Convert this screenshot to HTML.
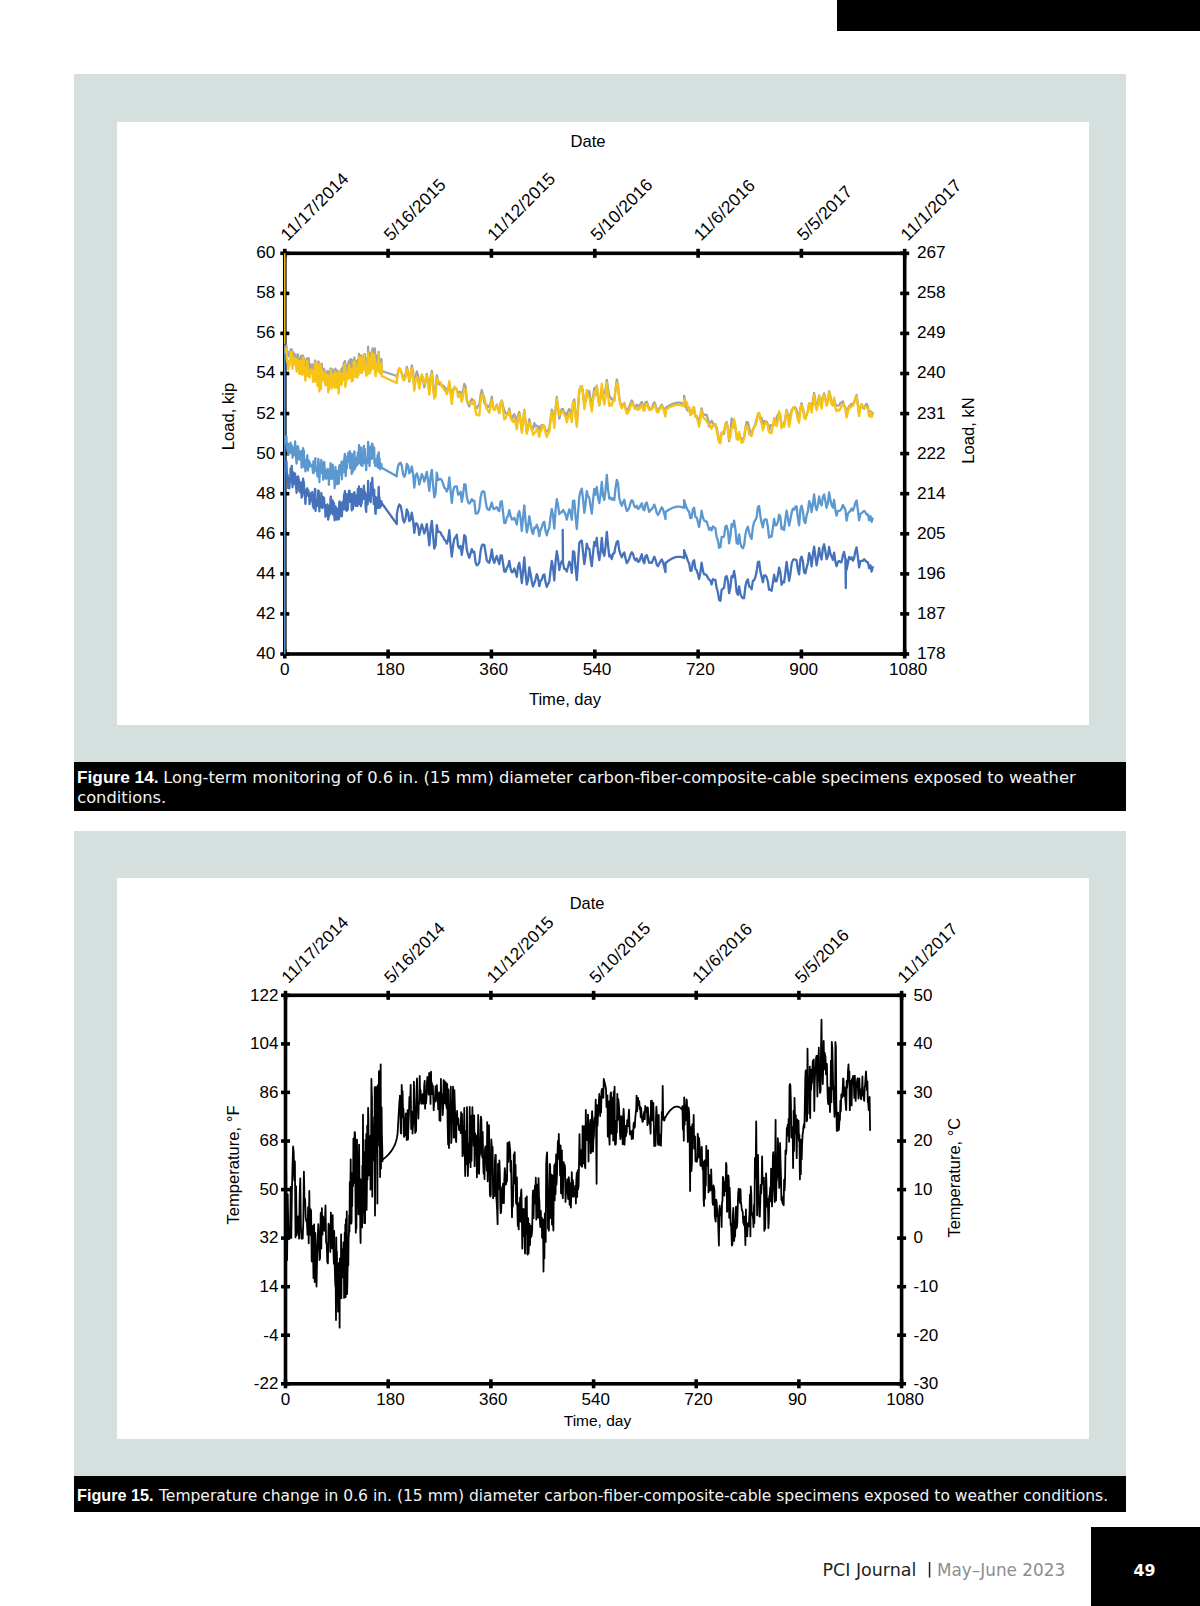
<!DOCTYPE html>
<html><head><meta charset="utf-8"><title>PCI Journal p49</title>
<style>
html,body{margin:0;padding:0;background:#fff;}
body{width:1200px;height:1606px;position:relative;overflow:hidden;font-family:"Liberation Sans", Arial, Helvetica, sans-serif;}
svg{position:absolute;left:0;top:0;}
svg text{font-family:"Liberation Sans", Arial, Helvetica, sans-serif;fill:#000;}
</style></head>
<body>
<svg width="1200" height="1606" viewBox="0 0 1200 1606">
<rect x="837" y="0" width="363" height="31" fill="#000"/>
<rect x="74" y="74" width="1052" height="688" fill="#d5dfde"/>
<rect x="117" y="122" width="972" height="603" fill="#fff"/>
<rect x="74" y="762" width="1052" height="49" fill="#000"/>
<rect x="74" y="831" width="1052" height="645" fill="#d5dfde"/>
<rect x="117" y="878" width="972" height="561" fill="#fff"/>
<rect x="74" y="1476" width="1052" height="36" fill="#000"/>
<rect x="1091" y="1527" width="109" height="79" fill="#000"/>
<g id="chart1">
<rect x="284.8" y="253.3" width="619.9" height="400.7" fill="none" stroke="#000" stroke-width="3.6"/>
<rect x="283.0" y="248.8" width="3.6" height="9.0"/>
<rect x="283.0" y="649.5" width="3.6" height="9.0"/>
<rect x="386.3" y="248.8" width="3.6" height="9.0"/>
<rect x="386.3" y="649.5" width="3.6" height="9.0"/>
<rect x="489.6" y="248.8" width="3.6" height="9.0"/>
<rect x="489.6" y="649.5" width="3.6" height="9.0"/>
<rect x="593.0" y="248.8" width="3.6" height="9.0"/>
<rect x="593.0" y="649.5" width="3.6" height="9.0"/>
<rect x="696.3" y="248.8" width="3.6" height="9.0"/>
<rect x="696.3" y="649.5" width="3.6" height="9.0"/>
<rect x="799.6" y="248.8" width="3.6" height="9.0"/>
<rect x="799.6" y="649.5" width="3.6" height="9.0"/>
<rect x="902.9" y="248.8" width="3.6" height="9.0"/>
<rect x="902.9" y="649.5" width="3.6" height="9.0"/>
<rect x="280.3" y="251.5" width="9.0" height="3.6"/>
<rect x="900.2" y="251.5" width="9.0" height="3.6"/>
<rect x="280.3" y="291.6" width="9.0" height="3.6"/>
<rect x="900.2" y="291.6" width="9.0" height="3.6"/>
<rect x="280.3" y="331.6" width="9.0" height="3.6"/>
<rect x="900.2" y="331.6" width="9.0" height="3.6"/>
<rect x="280.3" y="371.7" width="9.0" height="3.6"/>
<rect x="900.2" y="371.7" width="9.0" height="3.6"/>
<rect x="280.3" y="411.8" width="9.0" height="3.6"/>
<rect x="900.2" y="411.8" width="9.0" height="3.6"/>
<rect x="280.3" y="451.8" width="9.0" height="3.6"/>
<rect x="900.2" y="451.8" width="9.0" height="3.6"/>
<rect x="280.3" y="491.9" width="9.0" height="3.6"/>
<rect x="900.2" y="491.9" width="9.0" height="3.6"/>
<rect x="280.3" y="532.0" width="9.0" height="3.6"/>
<rect x="900.2" y="532.0" width="9.0" height="3.6"/>
<rect x="280.3" y="572.1" width="9.0" height="3.6"/>
<rect x="900.2" y="572.1" width="9.0" height="3.6"/>
<rect x="280.3" y="612.1" width="9.0" height="3.6"/>
<rect x="900.2" y="612.1" width="9.0" height="3.6"/>
<rect x="280.3" y="652.2" width="9.0" height="3.6"/>
<rect x="900.2" y="652.2" width="9.0" height="3.6"/>
<path d="M284.8 253.3V344.5" stroke="#f7c314" stroke-width="1.5" fill="none"/><path d="M284.8 344.5V654" stroke="#5b98d0" stroke-width="1.5" fill="none"/>
<path d="M285.6 346.0L286.0 350.5L286.4 345.7L286.8 352.1L287.1 354.7L287.5 354.5L287.9 352.0L288.3 355.3L288.7 356.4L289.0 353.8L289.4 353.6L289.8 352.7L290.2 356.2L290.6 349.5L290.9 353.1L291.3 352.9L291.7 349.5L292.1 350.9L292.5 359.4L292.8 354.3L293.2 352.3L293.6 353.4L294.0 358.4L294.4 358.3L294.7 358.8L295.1 354.3L295.5 359.2L295.9 358.3L296.3 359.0L296.6 363.3L297.0 360.3L297.4 355.5L297.8 354.3L298.2 356.6L298.5 361.5L298.9 358.1L299.3 363.6L299.7 360.4L300.1 362.4L300.4 362.2L300.8 362.4L301.2 355.7L301.6 366.6L302.0 366.8L302.3 366.4L302.7 356.8L303.1 355.8L303.5 359.1L303.9 357.8L304.2 363.7L304.6 364.4L305.0 368.2L305.4 368.5L305.8 364.5L306.1 366.0L306.5 359.1L306.9 360.2L307.3 358.1L307.7 365.3L308.0 364.6L308.4 362.3L308.8 358.4L309.2 364.3L309.6 369.1L309.9 364.1L310.3 367.2L310.7 368.5L311.1 369.8L311.5 366.9L311.8 366.4L312.2 364.3L312.6 368.9L313.0 371.0L313.4 366.0L313.7 373.3L314.1 367.3L314.5 366.2L314.9 361.2L315.3 360.5L315.6 368.8L316.0 367.7L316.4 375.1L316.8 371.1L317.2 369.8L317.5 374.9L317.9 370.4L318.3 361.5L318.7 361.6L319.1 374.4L319.4 379.9L319.8 372.7L320.2 368.0L320.6 365.2L321.0 374.1L321.3 363.8L321.7 363.9L322.1 369.1L322.5 372.1L322.9 370.9L323.2 375.6L323.6 371.2L324.0 368.9L324.4 370.1L324.8 372.2L325.1 375.7L325.5 381.8L325.9 375.9L326.3 375.6L326.7 374.9L327.0 376.7L327.4 371.2L327.8 371.1L328.2 375.7L328.6 373.1L328.9 380.9L329.3 371.5L329.7 372.2L330.1 381.4L330.5 368.5L330.8 369.2L331.2 371.2L331.6 376.6L332.0 373.0L332.4 376.1L332.7 369.4L333.1 377.3L333.5 376.3L333.9 371.6L334.3 375.1L334.6 383.8L335.0 377.9L335.4 368.7L335.8 372.8L336.2 377.4L336.5 379.3L336.9 379.9L337.3 370.6L337.7 372.6L338.1 377.1L338.4 378.8L338.8 378.5L339.2 371.6L339.6 372.9L340.0 379.9L340.3 372.8L340.7 371.9L341.1 374.2L341.5 368.9L341.9 382.1L342.2 376.8L342.6 367.5L343.0 370.2L343.4 370.0L343.8 362.9L344.1 368.2L344.5 362.6L344.9 361.1L345.3 371.1L345.7 374.9L346.0 375.2L346.4 365.0L346.8 369.3L347.2 373.0L347.6 367.1L347.9 370.4L348.3 364.5L348.7 361.5L349.1 364.0L349.5 363.7L349.8 360.0L350.2 366.8L350.6 363.7L351.0 359.2L351.4 364.9L351.7 375.2L352.1 366.0L352.5 363.6L352.9 371.3L353.3 359.9L353.6 362.9L354.0 360.3L354.4 357.5L354.8 369.3L355.2 363.0L355.5 367.6L355.9 363.4L356.3 361.2L356.7 366.1L357.1 363.5L357.4 365.5L357.8 359.6L358.2 360.8L358.6 362.6L359.0 353.9L359.3 360.7L359.7 357.5L360.1 360.6L360.5 362.9L360.9 366.4L361.2 355.6L361.6 364.3L362.0 361.9L362.4 359.7L362.8 359.5L363.1 365.1L363.5 362.3L363.9 354.4L364.3 356.8L364.7 354.1L365.0 357.8L365.4 358.2L365.8 364.5L366.2 365.1L366.6 360.9L366.9 358.9L367.3 360.8L367.7 365.0L368.1 346.7L368.5 356.9L368.8 352.2L369.2 365.2L369.6 365.6L370.0 360.7L370.4 360.6L370.7 361.8L371.1 352.6L371.5 359.8L371.9 352.2L372.3 349.8L372.6 348.4L373.0 358.5L373.4 356.7L373.8 360.2L374.2 354.2L374.5 362.6L374.9 348.4L375.3 363.4L375.7 364.4L376.1 358.1L376.4 355.4L376.8 358.8L377.2 358.4L377.6 355.3L378.0 362.4L378.3 360.0L378.7 351.8L379.1 358.0L379.5 358.6L379.9 360.8L380.2 361.6L380.6 363.6L381.0 359.8L381.4 359.2L381.7 371.0L396.8 376.0L396.8 377.7L398.1 371.5L399.3 368.7L400.6 370.4L401.8 372.9L403.1 377.6L404.3 377.8L405.6 374.0L406.8 366.8L408.1 371.5L409.3 381.5L410.6 374.9L411.8 365.5L413.1 372.3L414.3 388.1L415.6 376.9L416.8 371.4L418.1 375.8L419.3 385.5L420.6 379.8L421.8 376.0L423.1 380.4L424.3 387.2L425.6 381.2L426.8 374.0L428.1 381.9L429.3 391.1L430.6 377.1L431.8 371.0L433.1 382.6L434.3 396.2L435.6 390.1L436.8 375.3L438.1 382.1L439.3 384.6L440.6 383.8L441.8 385.1L443.1 385.7L444.3 386.7L445.6 388.2L446.8 390.3L448.1 389.7L449.3 382.8L450.6 390.7L451.8 399.6L453.1 390.1L454.3 388.0L455.6 388.1L456.8 389.5L458.1 393.6L459.3 392.0L460.6 391.8L461.8 401.1L463.1 390.7L464.3 383.9L465.6 386.6L466.8 400.6L468.1 403.8L469.3 406.4L470.6 401.3L471.8 399.0L473.1 400.4L474.3 401.7L475.6 408.2L476.8 408.2L478.1 405.6L479.3 405.6L480.6 395.4L481.8 390.0L483.1 395.0L484.3 402.7L485.6 405.1L486.8 405.1L488.1 407.0L489.3 406.5L490.6 403.1L491.8 396.7L493.1 407.2L494.3 409.6L495.6 407.7L496.8 404.6L498.1 408.3L499.3 413.0L500.6 403.2L501.8 400.5L503.1 406.3L504.3 410.6L505.6 413.0L506.8 414.1L508.1 412.8L509.3 408.5L510.6 416.2L511.8 418.8L513.0 416.2L514.3 414.2L515.5 417.7L516.8 422.7L518.0 415.5L519.3 412.0L520.5 419.8L521.8 430.3L523.0 422.2L524.3 410.1L525.5 420.7L526.8 431.8L528.0 427.6L529.3 419.2L530.5 425.1L531.8 429.5L533.0 429.1L534.3 423.0L535.5 426.4L536.8 425.6L538.0 426.6L539.3 431.2L540.5 426.2L541.8 425.1L543.0 425.1L544.3 427.8L545.5 430.3L546.8 431.0L548.0 430.6L549.3 428.1L550.5 419.2L551.8 409.6L553.0 413.4L554.3 421.8L555.5 408.5L556.8 396.8L558.0 408.2L559.3 418.6L560.5 414.1L561.8 408.8L563.0 409.2L564.3 412.6L565.5 412.9L566.8 415.8L568.0 411.1L569.3 409.0L570.5 410.9L571.8 417.3L573.0 402.0L574.3 399.4L575.5 414.0L576.8 424.4L578.0 407.9L579.3 389.9L580.5 387.4L581.8 386.0L583.0 392.4L584.3 402.4L585.5 401.4L586.8 394.0L588.0 395.5L589.3 391.0L590.5 399.9L591.8 408.3L593.0 397.2L594.3 388.2L595.5 391.5L596.8 385.6L598.0 396.5L599.3 405.4L600.5 397.7L601.8 387.6L603.0 394.1L604.3 393.2L605.5 389.5L606.8 379.9L608.0 388.4L609.3 396.0L610.5 397.1L611.8 399.6L613.0 399.2L614.3 400.9L615.5 389.3L616.8 379.3L618.0 385.1L619.3 398.5L620.5 403.4L621.8 406.8L623.0 404.6L624.3 402.9L625.5 407.6L626.8 411.3L628.0 409.8L629.3 406.6L630.5 403.5L631.8 400.5L633.0 403.1L634.3 407.3L635.5 407.3L636.8 404.7L638.0 406.7L639.3 405.5L640.5 404.0L641.8 401.9L643.0 406.4L644.3 407.8L645.5 402.3L646.8 401.7L648.0 405.5L649.3 408.2L650.5 409.1L651.8 408.7L653.0 404.6L654.3 402.2L655.5 404.7L656.8 410.3L658.0 410.9L659.3 408.1L660.5 406.6L661.8 404.6L663.0 407.6L664.3 411.2L665.5 413.8L665.6 408.0L667.7 406.5L669.7 405.3L671.6 404.3L673.6 403.5L675.4 403.0L677.3 402.7L679.0 402.7L680.8 402.9L682.5 403.3L684.1 404.0L684.1 395.6L685.4 403.2L686.6 409.1L687.9 410.7L689.1 407.7L690.4 412.7L691.6 414.0L692.9 410.1L694.1 410.2L695.4 416.5L696.6 415.9L697.9 418.6L699.1 423.6L700.4 415.7L701.6 408.3L702.9 414.0L704.1 414.9L705.4 414.7L706.6 414.8L707.9 419.0L709.1 426.5L710.4 422.6L711.6 420.8L712.9 422.8L714.1 426.1L715.4 424.3L716.6 427.7L717.9 434.1L719.1 440.7L720.4 440.8L721.6 432.7L722.9 432.2L724.1 433.9L725.4 424.4L726.6 422.0L727.9 428.8L729.1 441.1L730.4 432.7L731.6 418.4L732.9 423.6L734.1 424.7L735.4 428.2L736.6 436.3L737.9 437.4L739.1 433.7L740.4 437.9L741.6 437.9L742.9 439.9L744.1 437.8L745.4 428.1L746.6 422.0L747.9 422.3L749.1 427.4L750.4 433.0L751.6 435.8L752.9 429.4L754.1 427.1L755.4 424.0L756.6 419.1L757.9 415.5L759.1 413.3L760.4 419.7L761.6 417.8L762.9 424.6L764.1 420.9L765.4 421.7L766.6 421.7L767.9 424.4L769.1 431.7L770.4 425.1L771.6 425.3L772.9 425.1L774.1 424.6L775.4 423.5L776.6 418.0L777.9 414.6L779.1 413.5L780.4 417.3L781.6 426.2L782.9 423.6L784.1 424.5L785.4 417.7L786.6 410.0L787.9 414.2L789.1 419.1L790.4 415.8L791.6 410.2L792.9 408.7L794.1 407.2L795.4 407.5L796.6 409.7L797.9 415.1L799.1 418.1L800.4 408.8L801.6 403.2L802.9 408.9L804.1 414.7L805.4 416.9L806.6 415.1L807.9 411.4L809.1 403.3L810.4 404.1L811.6 406.9L812.9 400.4L814.1 393.0L815.4 401.0L816.6 404.7L817.9 402.9L819.1 395.3L820.4 401.2L821.6 404.4L822.9 396.6L824.1 393.4L825.4 398.5L826.6 403.4L827.9 401.0L829.1 391.1L830.4 396.1L831.6 402.1L832.9 405.5L834.1 399.8L835.4 404.4L836.6 405.4L837.9 405.6L839.1 405.3L840.4 403.0L841.6 402.5L842.9 401.4L844.1 406.0L845.4 407.4L846.6 415.6L847.9 409.1L849.1 406.1L850.4 405.2L851.6 403.7L852.9 405.4L854.1 402.7L855.4 398.2L856.6 395.0L857.9 404.3L859.1 413.4L860.4 406.9L861.6 404.2L862.9 407.8L864.1 408.7L865.4 405.4L866.6 403.8L867.9 406.7L869.1 414.2L870.4 411.1L871.6 416.5L872.9 411.7" fill="none" stroke="#a4a4a4" stroke-width="2.30" stroke-linejoin="round" stroke-linecap="butt"/>
<path d="M285.6 348.0L286.0 352.7L286.4 350.0L286.8 359.4L287.1 361.7L287.5 360.1L287.9 362.7L288.3 369.7L288.7 365.0L289.0 363.0L289.4 365.8L289.8 360.6L290.2 361.0L290.6 352.5L290.9 358.0L291.3 359.7L291.7 351.8L292.1 361.5L292.5 368.8L292.8 364.2L293.2 357.4L293.6 363.1L294.0 364.4L294.4 360.1L294.7 363.7L295.1 359.0L295.5 358.5L295.9 366.3L296.3 366.1L296.6 371.7L297.0 368.2L297.4 359.4L297.8 361.5L298.2 361.9L298.5 364.6L298.9 361.4L299.3 373.9L299.7 367.3L300.1 369.2L300.4 366.7L300.8 373.4L301.2 361.0L301.6 374.1L302.0 373.1L302.3 374.7L302.7 361.9L303.1 357.5L303.5 361.2L303.9 360.1L304.2 373.0L304.6 373.2L305.0 376.4L305.4 380.6L305.8 375.1L306.1 371.8L306.5 367.2L306.9 368.0L307.3 360.9L307.7 371.0L308.0 376.1L308.4 371.2L308.8 369.9L309.2 371.9L309.6 377.6L309.9 374.4L310.3 373.9L310.7 369.5L311.1 369.8L311.5 370.0L311.8 370.0L312.2 369.9L312.6 373.4L313.0 381.9L313.4 370.4L313.7 381.6L314.1 375.0L314.5 376.5L314.9 363.4L315.3 363.0L315.6 381.4L316.0 365.0L316.4 379.8L316.8 380.4L317.2 377.4L317.5 386.0L317.9 380.0L318.3 364.0L318.7 369.0L319.1 377.9L319.4 391.4L319.8 378.2L320.2 377.0L320.6 364.7L321.0 389.0L321.3 368.9L321.7 371.2L322.1 375.7L322.5 380.4L322.9 372.5L323.2 377.3L323.6 371.6L324.0 372.0L324.4 379.5L324.8 382.6L325.1 383.2L325.5 385.4L325.9 377.1L326.3 374.2L326.7 379.2L327.0 384.6L327.4 375.1L327.8 378.4L328.2 392.4L328.6 382.4L328.9 389.8L329.3 381.7L329.7 375.6L330.1 384.4L330.5 374.1L330.8 369.9L331.2 376.0L331.6 388.6L332.0 385.6L332.4 380.3L332.7 374.8L333.1 386.0L333.5 383.3L333.9 374.5L334.3 375.3L334.6 387.7L335.0 382.3L335.4 372.0L335.8 373.8L336.2 378.7L336.5 387.7L336.9 384.6L337.3 373.3L337.7 377.7L338.1 386.8L338.4 387.3L338.8 393.6L339.2 371.9L339.6 371.2L340.0 382.1L340.3 378.6L340.7 385.1L341.1 380.9L341.5 374.0L341.9 384.1L342.2 375.5L342.6 375.6L343.0 380.3L343.4 378.5L343.8 370.2L344.1 373.6L344.5 365.6L344.9 364.2L345.3 386.8L345.7 384.7L346.0 382.4L346.4 371.9L346.8 375.8L347.2 379.3L347.6 373.8L347.9 379.5L348.3 368.1L348.7 369.9L349.1 365.1L349.5 366.9L349.8 371.2L350.2 378.2L350.6 368.9L351.0 377.9L351.4 369.0L351.7 381.5L352.1 370.3L352.5 378.0L352.9 380.5L353.3 371.7L353.6 361.9L354.0 366.3L354.4 361.7L354.8 376.5L355.2 361.4L355.5 370.8L355.9 371.2L356.3 370.5L356.7 377.2L357.1 372.0L357.4 377.7L357.8 368.0L358.2 365.3L358.6 375.0L359.0 357.2L359.3 363.1L359.7 367.6L360.1 370.2L360.5 359.6L360.9 372.9L361.2 357.2L361.6 368.8L362.0 372.9L362.4 369.5L362.8 367.2L363.1 362.4L363.5 366.8L363.9 354.8L364.3 369.8L364.7 359.4L365.0 363.6L365.4 371.3L365.8 368.4L366.2 375.8L366.6 370.0L366.9 369.4L367.3 374.6L367.7 364.0L368.1 352.5L368.5 357.3L368.8 358.9L369.2 368.5L369.6 373.7L370.0 369.0L370.4 361.7L370.7 371.1L371.1 357.2L371.5 367.5L371.9 352.6L372.3 359.6L372.6 358.2L373.0 368.7L373.4 359.9L373.8 366.5L374.2 354.6L374.5 369.3L374.9 358.8L375.3 374.1L375.7 376.1L376.1 363.6L376.4 366.6L376.8 368.1L377.2 371.2L377.6 366.1L378.0 371.4L378.3 363.4L378.7 353.9L379.1 368.3L379.5 369.8L379.9 373.5L380.2 373.1L380.6 364.8L381.0 372.5L381.4 363.1L381.7 376.0L396.8 383.0L396.8 381.1L398.1 372.5L399.3 368.1L400.6 369.5L401.8 374.3L403.1 379.8L404.3 380.3L405.6 377.1L406.8 369.4L408.1 371.9L409.3 380.1L410.6 376.3L411.8 368.3L413.1 377.3L414.3 390.6L415.6 379.7L416.8 376.8L418.1 380.7L419.3 388.7L420.6 381.6L421.8 374.3L423.1 377.7L424.3 383.8L425.6 380.2L426.8 375.3L428.1 384.1L429.3 394.5L430.6 380.3L431.8 373.5L433.1 387.7L434.3 398.7L435.6 396.3L436.8 378.4L438.1 382.3L439.3 381.6L440.6 382.5L441.8 386.4L443.1 387.5L444.3 390.1L445.6 390.7L446.8 394.2L448.1 390.5L449.3 381.2L450.6 394.4L451.8 404.0L453.1 391.7L454.3 386.7L455.6 388.1L456.8 389.0L458.1 397.0L459.3 396.7L460.6 394.1L461.8 401.7L463.1 395.6L464.3 388.8L465.6 389.4L466.8 398.8L468.1 402.8L469.3 403.4L470.6 403.7L471.8 403.2L473.1 404.0L474.3 400.4L475.6 411.8L476.8 415.0L478.1 415.4L479.3 415.3L480.6 401.4L481.8 394.5L483.1 395.0L484.3 397.1L485.6 404.2L486.8 408.9L488.1 410.6L489.3 412.7L490.6 406.3L491.8 400.2L493.1 407.6L494.3 410.3L495.6 407.6L496.8 405.6L498.1 409.7L499.3 412.2L500.6 402.6L501.8 401.3L503.1 411.6L504.3 419.2L505.6 418.3L506.8 414.8L508.1 414.9L509.3 410.8L510.6 417.5L511.8 420.2L513.0 422.0L514.3 419.1L515.5 423.1L516.8 429.2L518.0 418.8L519.3 414.4L520.5 419.9L521.8 432.8L523.0 421.3L524.3 409.6L525.5 421.1L526.8 433.8L528.0 428.6L529.3 422.6L530.5 425.0L531.8 428.8L533.0 434.9L534.3 433.0L535.5 432.2L536.8 428.6L538.0 430.2L539.3 436.8L540.5 431.1L541.8 430.0L543.0 425.5L544.3 425.6L545.5 432.7L546.8 436.9L548.0 433.4L549.3 431.9L550.5 421.1L551.8 412.1L553.0 417.2L554.3 427.8L555.5 410.4L556.8 398.6L558.0 406.4L559.3 415.0L560.5 413.4L561.8 412.2L563.0 411.4L564.3 414.9L565.5 416.6L566.8 422.2L568.0 417.8L569.3 413.2L570.5 415.8L571.8 421.9L573.0 402.1L574.3 401.9L575.5 416.4L576.8 426.9L578.0 410.3L579.3 391.8L580.5 386.4L581.8 386.2L583.0 394.9L584.3 409.0L585.5 401.6L586.8 389.8L588.0 396.3L589.3 397.5L590.5 404.1L591.8 411.6L593.0 400.0L594.3 392.0L595.5 395.4L596.8 386.2L598.0 397.3L599.3 405.1L600.5 397.5L601.8 383.8L603.0 397.0L604.3 404.5L605.5 396.6L606.8 382.6L608.0 394.9L609.3 405.8L610.5 403.4L611.8 405.7L613.0 401.2L614.3 400.5L615.5 389.5L616.8 383.0L618.0 385.6L619.3 399.2L620.5 404.9L621.8 408.3L623.0 405.8L624.3 403.9L625.5 409.1L626.8 413.8L628.0 412.7L629.3 410.3L630.5 406.4L631.8 403.0L633.0 404.5L634.3 408.1L635.5 409.3L636.8 407.8L638.0 409.8L639.3 408.9L640.5 406.4L641.8 405.0L643.0 409.5L644.3 411.0L645.5 405.1L646.8 403.7L648.0 407.5L649.3 410.1L650.5 409.8L651.8 409.5L653.0 407.2L654.3 404.7L655.5 407.2L656.8 411.7L658.0 412.5L659.3 410.2L660.5 407.9L661.8 406.1L663.0 408.7L664.3 412.4L665.5 416.6L665.6 410.0L667.7 408.5L669.7 407.3L671.6 406.3L673.6 405.6L675.4 405.1L677.3 404.9L679.0 404.9L680.8 405.2L682.5 405.7L684.1 406.5L684.1 399.5L685.4 402.2L686.6 401.8L687.9 407.4L689.1 410.0L690.4 415.2L691.6 413.4L692.9 407.5L694.1 407.1L695.4 415.7L696.6 417.3L697.9 421.3L699.1 426.6L700.4 419.2L701.6 410.2L702.9 416.5L704.1 418.5L705.4 419.2L706.6 421.2L707.9 423.4L709.1 424.4L710.4 425.8L711.6 428.7L712.9 425.4L714.1 424.6L715.4 424.8L716.6 430.4L717.9 436.7L719.1 442.7L720.4 443.2L721.6 433.3L722.9 433.3L724.1 431.5L725.4 424.0L726.6 423.7L727.9 428.1L729.1 439.5L730.4 436.4L731.6 427.9L732.9 427.8L734.1 419.2L735.4 425.8L736.6 438.8L737.9 439.8L739.1 432.0L740.4 438.5L741.6 442.7L742.9 442.2L744.1 438.4L745.4 428.4L746.6 425.5L747.9 426.8L749.1 434.1L750.4 435.3L751.6 435.1L752.9 429.1L754.1 427.1L755.4 425.4L756.6 422.2L757.9 413.2L759.1 412.7L760.4 419.2L761.6 423.5L762.9 430.1L764.1 426.0L765.4 422.7L766.6 423.5L767.9 425.6L769.1 432.1L770.4 433.0L771.6 433.2L772.9 425.3L774.1 417.9L775.4 424.4L776.6 426.1L777.9 419.8L779.1 411.4L780.4 414.8L781.6 428.2L782.9 424.7L784.1 426.7L785.4 418.5L786.6 410.1L787.9 418.4L789.1 426.6L790.4 420.0L791.6 411.9L792.9 407.6L794.1 407.3L795.4 409.5L796.6 413.4L797.9 420.0L799.1 422.7L800.4 408.1L801.6 405.2L802.9 407.7L804.1 417.4L805.4 419.1L806.6 414.6L807.9 411.1L809.1 403.4L810.4 404.9L811.6 412.6L812.9 404.5L814.1 395.0L815.4 404.8L816.6 410.1L817.9 404.7L819.1 396.0L820.4 404.3L821.6 408.5L822.9 397.6L824.1 394.8L825.4 399.9L826.6 405.7L827.9 402.1L829.1 391.9L830.4 399.1L831.6 404.2L832.9 405.2L834.1 397.6L835.4 407.6L836.6 411.3L837.9 409.6L839.1 410.5L840.4 408.8L841.6 405.6L842.9 403.9L844.1 405.1L845.4 409.1L846.6 417.6L847.9 411.6L849.1 407.2L850.4 407.6L851.6 405.9L852.9 406.0L854.1 402.6L855.4 398.2L856.6 396.5L857.9 405.8L859.1 416.0L860.4 407.4L861.6 404.7L862.9 406.0L864.1 407.6L865.4 407.2L866.6 406.9L867.9 409.2L869.1 416.4L870.4 412.6L871.6 417.2L872.9 413.5" fill="none" stroke="#f7c314" stroke-width="2.30" stroke-linejoin="round" stroke-linecap="butt"/>
<path d="M285.6 436.0L286.0 443.3L286.4 436.2L286.8 447.5L287.1 448.3L287.5 444.6L287.9 443.6L288.3 454.8L288.7 448.5L289.0 450.7L289.4 452.3L289.8 444.0L290.2 452.9L290.6 442.7L290.9 451.8L291.3 449.4L291.7 445.3L292.1 448.6L292.5 457.7L292.8 451.9L293.2 447.9L293.6 450.8L294.0 455.1L294.4 454.4L294.7 448.1L295.1 441.4L295.5 449.8L295.9 456.1L296.3 460.4L296.6 463.5L297.0 458.3L297.4 450.3L297.8 446.2L298.2 447.4L298.5 456.0L298.9 450.9L299.3 459.7L299.7 458.9L300.1 455.3L300.4 453.6L300.8 454.7L301.2 451.1L301.6 467.6L302.0 464.9L302.3 463.5L302.7 454.6L303.1 448.2L303.5 453.0L303.9 451.0L304.2 467.2L304.6 466.0L305.0 464.5L305.4 471.4L305.8 464.8L306.1 459.9L306.5 459.8L306.9 458.2L307.3 455.5L307.7 466.4L308.0 470.5L308.4 462.2L308.8 460.5L309.2 462.9L309.6 466.6L309.9 462.3L310.3 465.1L310.7 465.0L311.1 466.4L311.5 466.1L311.8 465.0L312.2 465.9L312.6 467.7L313.0 473.0L313.4 461.3L313.7 473.0L314.1 464.8L314.5 465.2L314.9 460.8L315.3 458.1L315.6 470.5L316.0 466.6L316.4 467.2L316.8 470.8L317.2 473.9L317.5 476.4L317.9 473.8L318.3 459.0L318.7 462.3L319.1 472.4L319.4 482.1L319.8 472.2L320.2 468.1L320.6 468.7L321.0 470.0L321.3 459.9L321.7 463.0L322.1 473.4L322.5 468.1L322.9 470.0L323.2 479.8L323.6 469.3L324.0 462.0L324.4 462.8L324.8 470.9L325.1 469.2L325.5 478.4L325.9 470.2L326.3 478.8L326.7 474.4L327.0 476.7L327.4 473.3L327.8 469.0L328.2 476.2L328.6 473.5L328.9 484.8L329.3 470.0L329.7 469.9L330.1 475.8L330.5 463.2L330.8 466.8L331.2 477.3L331.6 479.0L332.0 479.0L332.4 470.7L332.7 464.6L333.1 474.3L333.5 471.4L333.9 470.9L334.3 477.6L334.6 488.2L335.0 482.6L335.4 466.8L335.8 473.4L336.2 473.4L336.5 474.3L336.9 484.1L337.3 476.2L337.7 470.8L338.1 478.7L338.4 480.7L338.8 483.5L339.2 466.4L339.6 465.1L340.0 474.8L340.3 467.2L340.7 470.4L341.1 469.7L341.5 461.6L341.9 479.4L342.2 472.8L342.6 468.1L343.0 467.7L343.4 472.3L343.8 460.1L344.1 462.9L344.5 457.9L344.9 453.9L345.3 468.6L345.7 476.1L346.0 472.4L346.4 457.6L346.8 468.5L347.2 464.1L347.6 455.9L347.9 461.9L348.3 452.9L348.7 453.4L349.1 455.6L349.5 457.0L349.8 451.1L350.2 468.2L350.6 453.2L351.0 456.6L351.4 458.4L351.7 474.0L352.1 457.0L352.5 463.2L352.9 471.8L353.3 453.7L353.6 453.8L354.0 457.3L354.4 451.3L354.8 469.3L355.2 457.1L355.5 461.0L355.9 466.6L356.3 460.3L356.7 461.3L357.1 463.3L357.4 464.8L357.8 452.5L358.2 456.3L358.6 463.3L359.0 445.2L359.3 456.1L359.7 456.1L360.1 454.0L360.5 453.2L360.9 465.0L361.2 447.4L361.6 462.1L362.0 465.4L362.4 465.9L362.8 457.0L363.1 462.0L363.5 457.0L363.9 445.9L364.3 463.3L364.7 448.9L365.0 454.8L365.4 458.3L365.8 462.0L366.2 470.1L366.6 459.0L366.9 460.0L367.3 462.9L367.7 458.5L368.1 441.8L368.5 447.2L368.8 450.4L369.2 462.6L369.6 466.0L370.0 457.3L370.4 447.0L370.7 458.9L371.1 449.1L371.5 459.1L371.9 443.6L372.3 447.8L372.6 444.2L373.0 457.9L373.4 451.5L373.8 453.5L374.2 447.7L374.5 463.3L374.9 462.3L375.3 465.9L375.7 466.0L376.1 459.3L376.4 461.0L376.8 461.8L377.2 464.1L377.6 455.2L378.0 467.8L378.3 458.4L378.7 452.4L379.1 463.4L379.5 458.3L379.9 468.1L380.2 469.3L380.6 466.2L381.0 466.8L381.4 463.9L381.7 467.8L396.8 476.2L396.8 473.6L398.1 466.0L399.3 463.4L400.6 462.7L401.8 465.7L403.1 474.4L404.3 476.8L405.6 473.5L406.8 463.8L408.1 465.8L409.3 473.3L410.6 471.6L411.8 466.4L413.1 474.3L414.3 487.7L415.6 476.1L416.8 473.5L418.1 476.8L419.3 484.7L420.6 479.5L421.8 474.0L423.1 476.9L424.3 481.7L425.6 476.7L426.8 471.8L428.1 481.2L429.3 490.9L430.6 476.3L431.8 469.8L433.1 485.0L434.3 497.4L435.6 493.4L436.8 472.6L438.1 480.0L439.3 479.2L440.6 478.9L441.8 480.2L443.1 483.7L444.3 487.7L445.6 488.6L446.8 491.5L448.1 488.1L449.3 477.3L450.6 491.0L451.8 502.9L453.1 490.6L454.3 487.0L455.6 486.4L456.8 486.3L458.1 494.6L459.3 494.1L460.6 491.8L461.8 501.8L463.1 494.2L464.3 484.2L465.6 484.7L466.8 496.8L468.1 502.1L469.3 503.6L470.6 501.8L471.8 499.1L473.1 501.1L474.3 500.6L475.6 513.3L476.8 513.6L478.1 512.6L479.3 508.9L480.6 497.3L481.8 492.3L483.1 491.2L484.3 491.9L485.6 501.2L486.8 507.9L488.1 509.7L489.3 510.0L490.6 506.2L491.8 502.5L493.1 508.3L494.3 509.2L495.6 507.8L496.8 507.1L498.1 510.0L499.3 511.0L500.6 501.9L501.8 501.3L503.1 512.8L504.3 523.1L505.6 522.9L506.8 517.7L508.1 515.9L509.3 510.1L510.6 515.8L511.8 519.5L513.0 519.3L514.3 517.7L515.5 520.6L516.8 524.6L518.0 514.9L519.3 511.2L520.5 517.7L521.8 531.0L523.0 518.0L524.3 505.4L525.5 520.3L526.8 532.5L528.0 527.2L529.3 516.1L530.5 522.8L531.8 531.0L533.0 534.0L534.3 527.7L535.5 528.0L536.8 524.8L538.0 528.4L539.3 536.2L540.5 530.1L541.8 527.3L543.0 523.1L544.3 521.8L545.5 530.8L546.8 535.3L548.0 530.8L549.3 527.9L550.5 517.3L551.8 508.9L553.0 515.4L554.3 528.7L555.5 510.7L556.8 499.2L558.0 504.8L559.3 514.2L560.5 512.4L561.8 512.3L563.0 509.9L564.3 511.9L565.5 514.5L566.8 519.6L568.0 514.3L569.3 509.3L570.5 512.2L571.8 519.8L573.0 500.8L574.3 500.7L575.5 516.3L576.8 529.0L578.0 513.0L579.3 497.0L580.5 491.4L581.8 488.6L583.0 498.5L584.3 512.9L585.5 504.4L586.8 491.1L588.0 496.3L589.3 497.7L590.5 506.1L591.8 513.6L593.0 500.6L594.3 488.8L595.5 494.7L596.8 487.0L598.0 497.3L599.3 503.1L600.5 495.0L601.8 481.9L603.0 495.4L604.3 499.9L605.5 490.8L606.8 475.0L608.0 489.1L609.3 498.7L610.5 497.5L611.8 499.8L613.0 498.3L614.3 500.0L615.5 488.3L616.8 479.9L618.0 483.7L619.3 497.9L620.5 502.8L621.8 505.8L623.0 502.1L624.3 499.8L625.5 506.2L626.8 511.0L628.0 510.1L629.3 507.5L630.5 502.9L631.8 500.1L633.0 501.5L634.3 506.2L635.5 507.5L636.8 505.7L638.0 508.9L639.3 508.1L640.5 505.5L641.8 503.2L643.0 508.9L644.3 510.3L645.5 503.8L646.8 502.5L648.0 507.4L649.3 511.9L650.5 510.2L651.8 509.2L653.0 507.3L654.3 504.6L655.5 508.1L656.8 513.0L658.0 515.0L659.3 512.7L660.5 509.8L661.8 507.3L663.0 509.4L664.3 513.8L665.5 519.1L665.6 512.0L667.7 510.5L669.7 509.3L671.6 508.3L673.6 507.5L675.4 507.0L677.3 506.7L679.0 506.7L680.8 506.9L682.5 507.3L684.1 508.0L684.1 500.1L685.4 504.5L686.6 507.9L687.9 510.4L689.1 511.7L690.4 518.2L691.6 517.8L692.9 509.2L694.1 507.6L695.4 517.1L696.6 517.3L697.9 521.9L699.1 527.0L700.4 519.3L701.6 510.7L702.9 517.4L704.1 520.3L705.4 521.3L706.6 521.3L707.9 525.8L709.1 529.7L710.4 527.9L711.6 530.4L712.9 526.4L714.1 527.6L715.4 528.3L716.6 536.8L717.9 540.4L719.1 547.8L720.4 547.3L721.6 537.0L722.9 537.1L724.1 536.3L725.4 526.5L726.6 525.7L727.9 530.7L729.1 543.3L730.4 536.3L731.6 524.1L732.9 526.5L734.1 520.6L735.4 528.9L736.6 542.8L737.9 543.8L739.1 534.3L740.4 543.4L741.6 546.8L742.9 548.3L744.1 545.4L745.4 534.4L746.6 529.2L747.9 526.8L749.1 532.2L750.4 536.7L751.6 538.9L752.9 527.2L754.1 522.1L755.4 519.9L756.6 517.6L757.9 507.1L759.1 506.0L760.4 516.2L761.6 522.8L762.9 527.4L764.1 520.1L765.4 519.2L766.6 519.8L767.9 527.0L769.1 537.6L770.4 536.2L771.6 536.6L772.9 527.8L774.1 519.0L775.4 525.3L776.6 525.2L777.9 521.8L779.1 514.7L780.4 516.8L781.6 529.2L782.9 527.5L784.1 530.1L785.4 519.5L786.6 510.7L787.9 517.9L789.1 525.7L790.4 519.7L791.6 512.8L792.9 508.7L794.1 509.7L795.4 506.7L796.6 506.5L797.9 518.4L799.1 525.3L800.4 509.3L801.6 505.8L802.9 511.3L804.1 521.2L805.4 523.1L806.6 515.4L807.9 511.3L809.1 501.1L810.4 503.7L811.6 512.0L812.9 504.1L814.1 494.4L815.4 505.9L816.6 510.2L817.9 504.9L819.1 496.5L820.4 503.3L821.6 505.4L822.9 497.0L824.1 494.4L825.4 501.1L826.6 507.8L827.9 503.2L829.1 492.5L830.4 499.7L831.6 504.9L832.9 507.6L834.1 500.0L835.4 510.4L836.6 515.7L837.9 511.0L839.1 510.9L840.4 510.5L841.6 508.5L842.9 505.0L844.1 507.3L845.4 509.8L846.6 520.6L847.9 513.7L849.1 512.3L850.4 510.9L851.6 508.5L852.9 510.5L854.1 507.6L855.4 502.7L856.6 500.5L857.9 510.1L859.1 520.3L860.4 513.8L861.6 513.2L862.9 511.9L864.1 510.7L865.4 512.2L866.6 514.6L867.9 514.3L869.1 520.2L870.4 516.1L871.6 521.8L872.9 517.5" fill="none" stroke="#5b98d0" stroke-width="2.30" stroke-linejoin="round" stroke-linecap="butt"/>
<path d="M285.6 462.0L286.0 471.4L286.4 461.3L286.8 472.9L287.1 478.9L287.5 474.5L287.9 477.3L288.3 488.1L288.7 481.8L289.0 485.3L289.4 488.3L289.8 478.3L290.2 482.7L290.6 468.4L290.9 478.8L291.3 478.0L291.7 465.9L292.1 476.3L292.5 487.3L292.8 480.3L293.2 472.3L293.6 472.7L294.0 483.8L294.4 481.2L294.7 477.5L295.1 473.7L295.5 483.1L295.9 485.3L296.3 488.5L296.6 492.8L297.0 485.7L297.4 477.0L297.8 479.1L298.2 476.4L298.5 482.0L298.9 479.7L299.3 490.9L299.7 482.9L300.1 491.6L300.4 492.2L300.8 487.1L301.2 482.5L301.6 497.6L302.0 494.6L302.3 496.2L302.7 485.0L303.1 478.6L303.5 482.4L303.9 482.3L304.2 493.0L304.6 490.4L305.0 495.8L305.4 503.9L305.8 496.6L306.1 496.1L306.5 492.2L306.9 488.3L307.3 488.3L307.7 495.5L308.0 494.0L308.4 490.6L308.8 495.3L309.2 495.9L309.6 504.2L309.9 500.7L310.3 501.7L310.7 493.3L311.1 496.1L311.5 497.1L311.8 496.7L312.2 492.2L312.6 500.3L313.0 506.3L313.4 495.1L313.7 508.4L314.1 496.6L314.5 500.8L314.9 489.0L315.3 489.2L315.6 510.9L316.0 499.7L316.4 504.2L316.8 506.2L317.2 504.6L317.5 505.5L317.9 499.6L318.3 490.5L318.7 490.7L319.1 505.0L319.4 511.3L319.8 499.4L320.2 501.0L320.6 506.8L321.0 503.8L321.3 493.0L321.7 497.0L322.1 501.2L322.5 508.2L322.9 496.8L323.2 505.4L323.6 500.4L324.0 497.8L324.4 504.1L324.8 507.0L325.1 505.0L325.5 516.8L325.9 505.4L326.3 508.6L326.7 511.4L327.0 515.0L327.4 504.4L327.8 507.3L328.2 519.6L328.6 505.9L328.9 516.6L329.3 507.1L329.7 507.0L330.1 514.1L330.5 498.5L330.8 496.6L331.2 503.2L331.6 512.1L332.0 513.2L332.4 508.6L332.7 500.5L333.1 512.2L333.5 515.2L333.9 502.8L334.3 513.8L334.6 520.3L335.0 513.3L335.4 506.3L335.8 507.1L336.2 509.6L336.5 511.3L336.9 519.6L337.3 508.9L337.7 511.8L338.1 509.6L338.4 512.6L338.8 519.4L339.2 503.8L339.6 501.3L340.0 516.5L340.3 507.4L340.7 512.5L341.1 503.5L341.5 506.3L341.9 516.3L342.2 510.2L342.6 502.0L343.0 508.3L343.4 509.2L343.8 501.3L344.1 494.7L344.5 494.3L344.9 491.2L345.3 507.1L345.7 510.2L346.0 503.7L346.4 494.2L346.8 510.8L347.2 508.0L347.6 498.3L347.9 509.4L348.3 494.2L348.7 496.0L349.1 490.7L349.5 490.9L349.8 493.3L350.2 501.9L350.6 493.9L351.0 496.1L351.4 495.1L351.7 510.4L352.1 494.1L352.5 500.7L352.9 508.9L353.3 494.6L353.6 495.0L354.0 493.2L354.4 492.1L354.8 503.5L355.2 498.3L355.5 505.9L355.9 503.3L356.3 495.5L356.7 503.8L357.1 496.7L357.4 506.1L357.8 489.0L358.2 490.1L358.6 496.4L359.0 486.5L359.3 504.0L359.7 492.2L360.1 493.6L360.5 492.0L360.9 506.3L361.2 488.8L361.6 503.8L362.0 499.2L362.4 491.4L362.8 495.6L363.1 499.1L363.5 494.3L363.9 485.6L364.3 493.3L364.7 494.4L365.0 492.1L365.4 498.1L365.8 509.1L366.2 511.9L366.6 497.9L366.9 494.3L367.3 501.4L367.7 504.4L368.1 481.0L368.5 493.7L368.8 492.8L369.2 492.6L369.6 500.4L370.0 499.9L370.4 495.3L370.7 502.3L371.1 482.9L371.5 490.1L371.9 495.0L372.3 477.9L372.6 487.2L373.0 491.4L373.4 493.2L373.8 504.0L374.2 489.6L374.5 501.4L374.9 496.7L375.3 513.1L375.7 513.7L376.1 497.4L376.4 498.6L376.8 503.8L377.2 504.5L377.6 498.9L378.0 508.2L378.3 497.1L378.7 486.9L379.1 498.2L379.5 497.5L379.9 507.8L380.2 501.8L380.6 505.1L381.0 506.2L381.4 501.2L381.7 503.0L396.8 524.0L396.8 514.8L398.1 507.6L399.3 504.5L400.6 505.8L401.8 511.4L403.1 520.0L404.3 522.5L405.6 518.5L406.8 509.5L408.1 512.5L409.3 521.0L410.6 519.5L411.8 512.6L413.1 520.4L414.3 532.8L415.6 523.7L416.8 523.4L418.1 526.4L419.3 535.0L420.6 529.4L421.8 524.3L423.1 528.5L424.3 533.5L425.6 529.1L426.8 524.2L428.1 534.2L429.3 545.4L430.6 529.2L431.8 520.9L433.1 535.7L434.3 548.6L435.6 545.1L436.8 525.2L438.1 532.0L439.3 531.7L440.6 532.4L441.8 535.4L443.1 536.7L444.3 539.6L445.6 540.6L446.8 543.7L448.1 540.0L449.3 530.1L450.6 545.6L451.8 556.6L453.1 545.5L454.3 538.8L455.6 537.3L456.8 534.8L458.1 546.1L459.3 548.3L460.6 545.9L461.8 554.8L463.1 545.8L464.3 535.1L465.6 536.8L466.8 549.6L468.1 554.8L469.3 557.7L470.6 553.3L471.8 549.1L473.1 552.4L474.3 551.8L475.6 562.6L476.8 565.4L478.1 564.4L479.3 562.5L480.6 550.9L481.8 545.5L483.1 544.5L484.3 545.0L485.6 552.8L486.8 560.2L488.1 562.2L489.3 562.7L490.6 557.1L491.8 549.3L493.1 559.5L494.3 562.9L495.6 558.6L496.8 556.0L498.1 560.7L499.3 564.2L500.6 555.3L501.8 555.3L503.1 563.9L504.3 571.7L505.6 571.6L506.8 567.8L508.1 566.0L509.3 560.8L510.6 568.9L511.8 572.4L513.0 571.8L514.3 568.5L515.5 572.3L516.8 576.8L518.0 566.6L519.3 562.8L520.5 570.9L521.8 583.0L523.0 571.4L524.3 557.4L525.5 573.0L526.8 584.5L528.0 580.3L529.3 567.4L530.5 573.5L531.8 581.2L533.0 586.4L534.3 583.2L535.5 579.6L536.8 574.1L538.0 577.4L539.3 586.2L540.5 580.7L541.8 579.8L543.0 575.6L544.3 574.4L545.5 582.1L546.8 586.9L548.0 584.1L549.3 581.7L550.5 571.1L551.8 560.9L553.0 567.5L554.3 580.5L555.5 562.0L556.8 551.2L558.0 558.1L559.3 570.0L560.5 564.2L561.8 561.1L563.0 562.3L562.7 530.0L562.9 562.3L564.3 568.9L565.5 569.1L566.8 571.5L568.0 566.8L569.3 561.7L570.5 564.5L571.8 572.9L573.0 551.2L574.3 552.0L575.5 568.0L576.8 580.1L578.0 563.0L579.3 543.1L580.5 541.1L581.8 540.6L583.0 551.7L584.3 564.2L585.5 556.0L586.8 543.7L588.0 548.1L589.3 548.7L590.5 558.7L591.8 566.2L593.0 553.3L594.3 541.8L595.5 545.7L596.8 538.0L598.0 552.0L599.3 560.1L600.5 552.0L601.8 537.9L603.0 551.9L604.3 555.9L605.5 546.9L606.8 531.8L608.0 544.9L609.3 556.6L610.5 555.1L611.8 559.1L613.0 553.7L614.3 553.3L615.5 546.5L616.8 541.7L618.0 541.1L619.3 550.3L620.5 554.2L621.8 557.3L623.0 554.1L624.3 552.4L625.5 558.3L626.8 563.1L628.0 561.3L629.3 558.8L630.5 554.8L631.8 552.2L633.0 554.0L634.3 558.6L635.5 560.3L636.8 558.4L638.0 561.9L639.3 561.5L640.5 557.7L641.8 554.3L643.0 560.7L644.3 563.2L645.5 556.2L646.8 555.1L648.0 559.2L649.3 562.8L650.5 562.5L651.8 562.8L653.0 559.9L654.3 556.7L655.5 559.7L656.8 564.7L658.0 566.2L659.3 563.6L660.5 561.2L661.8 559.4L663.0 562.1L664.3 567.3L665.5 572.1L665.6 563.0L667.7 561.3L669.7 559.9L671.6 558.8L673.6 557.9L675.4 557.2L677.3 556.9L679.0 556.8L680.8 556.9L682.5 557.3L684.1 558.0L684.1 550.2L685.4 554.2L686.6 556.7L687.9 561.0L689.1 563.1L690.4 570.8L691.6 570.7L692.9 561.9L694.1 560.2L695.4 568.9L696.6 570.1L697.9 574.1L699.1 579.1L700.4 572.1L701.6 562.6L702.9 570.7L704.1 574.3L705.4 574.3L706.6 575.4L707.9 577.6L709.1 579.7L710.4 580.7L711.6 584.5L712.9 579.2L714.1 579.8L715.4 580.0L716.6 587.8L717.9 592.3L719.1 599.9L720.4 600.7L721.6 589.9L722.9 588.7L724.1 587.8L725.4 577.3L726.6 576.0L727.9 580.9L729.1 593.2L730.4 587.5L731.6 576.1L732.9 577.2L734.1 571.0L735.4 579.1L736.6 592.0L737.9 594.9L739.1 586.5L740.4 593.8L741.6 596.9L742.9 598.1L744.1 598.0L745.4 586.3L746.6 581.3L747.9 579.4L749.1 586.4L750.4 587.1L751.6 589.2L752.9 580.9L754.1 580.3L755.4 577.1L756.6 571.6L757.9 562.3L759.1 561.6L760.4 571.6L761.6 576.5L762.9 582.2L764.1 575.5L765.4 575.4L766.6 577.2L767.9 581.8L769.1 589.8L770.4 589.3L771.6 590.9L772.9 582.6L774.1 574.7L775.4 581.3L776.6 581.2L777.9 575.2L779.1 567.7L780.4 572.0L781.6 584.8L782.9 581.6L784.1 582.3L785.4 572.1L786.6 562.0L787.9 571.6L789.1 580.9L790.4 573.7L791.6 564.2L792.9 560.0L794.1 559.3L795.4 559.7L796.6 560.3L797.9 569.9L799.1 574.3L800.4 559.2L801.6 556.6L802.9 561.3L804.1 572.3L805.4 573.3L806.6 567.7L807.9 563.0L809.1 553.1L810.4 557.1L811.6 566.3L812.9 554.4L814.1 546.6L815.4 556.5L816.6 565.4L817.9 558.0L819.1 548.0L820.4 555.7L821.6 559.5L822.9 548.0L824.1 544.3L825.4 551.5L826.6 559.2L827.9 556.6L829.1 546.9L830.4 553.6L831.6 556.7L832.9 559.9L834.1 552.6L835.4 561.7L836.6 566.2L837.9 561.9L839.1 561.0L840.4 562.3L841.6 561.9L842.9 555.2L844.1 551.9L845.4 559.4L845.8 588.0L846.0 559.4L846.6 569.9L847.9 563.0L849.1 557.0L850.4 559.0L851.6 557.3L852.9 560.7L854.1 558.3L855.4 550.9L856.6 547.4L857.9 557.1L859.1 567.4L860.4 561.4L861.6 560.8L862.9 560.8L864.1 559.2L865.4 560.6L866.6 561.9L867.9 562.3L869.1 568.2L870.4 565.2L871.6 571.5L872.9 566.3" fill="none" stroke="#4572bb" stroke-width="2.30" stroke-linejoin="round" stroke-linecap="butt"/>
<text x="287.80" y="241.70" font-size="17.40" letter-spacing="0.20" transform="rotate(-45 287.80 241.70)">11/17/2014</text>
<text x="391.12" y="241.70" font-size="17.40" letter-spacing="0.20" transform="rotate(-45 391.12 241.70)">5/16/2015</text>
<text x="494.43" y="241.70" font-size="17.40" letter-spacing="0.20" transform="rotate(-45 494.43 241.70)">11/12/2015</text>
<text x="597.75" y="241.70" font-size="17.40" letter-spacing="0.20" transform="rotate(-45 597.75 241.70)">5/10/2016</text>
<text x="701.07" y="241.70" font-size="17.40" letter-spacing="0.20" transform="rotate(-45 701.07 241.70)">11/6/2016</text>
<text x="804.38" y="241.70" font-size="17.40" letter-spacing="0.20" transform="rotate(-45 804.38 241.70)">5/5/2017</text>
<text x="907.70" y="241.70" font-size="17.40" letter-spacing="0.20" transform="rotate(-45 907.70 241.70)">11/1/2017</text>
<text x="275.3" y="258.2" font-size="17.2" text-anchor="end">60</text>
<text x="275.3" y="298.3" font-size="17.2" text-anchor="end">58</text>
<text x="275.3" y="338.3" font-size="17.2" text-anchor="end">56</text>
<text x="275.3" y="378.4" font-size="17.2" text-anchor="end">54</text>
<text x="275.3" y="418.5" font-size="17.2" text-anchor="end">52</text>
<text x="275.3" y="458.5" font-size="17.2" text-anchor="end">50</text>
<text x="275.3" y="498.6" font-size="17.2" text-anchor="end">48</text>
<text x="275.3" y="538.7" font-size="17.2" text-anchor="end">46</text>
<text x="275.3" y="578.8" font-size="17.2" text-anchor="end">44</text>
<text x="275.3" y="618.8" font-size="17.2" text-anchor="end">42</text>
<text x="275.3" y="658.9" font-size="17.2" text-anchor="end">40</text>
<text x="917.0" y="258.2" font-size="17.2">267</text>
<text x="917.0" y="298.3" font-size="17.2">258</text>
<text x="917.0" y="338.3" font-size="17.2">249</text>
<text x="917.0" y="378.4" font-size="17.2">240</text>
<text x="917.0" y="418.5" font-size="17.2">231</text>
<text x="917.0" y="458.5" font-size="17.2">222</text>
<text x="917.0" y="498.6" font-size="17.2">214</text>
<text x="917.0" y="538.7" font-size="17.2">205</text>
<text x="917.0" y="578.8" font-size="17.2">196</text>
<text x="917.0" y="618.8" font-size="17.2">187</text>
<text x="917.0" y="658.9" font-size="17.2">178</text>
<text x="284.8" y="675.3" font-size="17.2" text-anchor="middle">0</text>
<text x="390.4" y="675.3" font-size="17.2" text-anchor="middle">180</text>
<text x="493.7" y="675.3" font-size="17.2" text-anchor="middle">360</text>
<text x="597.0" y="675.3" font-size="17.2" text-anchor="middle">540</text>
<text x="700.4" y="675.3" font-size="17.2" text-anchor="middle">720</text>
<text x="803.7" y="675.3" font-size="17.2" text-anchor="middle">900</text>
<text x="908.2" y="675.3" font-size="17.2" text-anchor="middle">1080</text>
<text x="588.0" y="146.8" font-size="16.60" text-anchor="middle">Date</text>
<text x="565.0" y="704.8" font-size="16.60" text-anchor="middle">Time, day</text>
<text x="234.0" y="416.5" font-size="16.60" text-anchor="middle" transform="rotate(-90 234.0 416.5)">Load, kip</text>
<text x="974.2" y="430.5" font-size="16.60" text-anchor="middle" transform="rotate(-90 974.2 430.5)">Load, kN</text>
</g>
<g id="chart2">
<rect x="285.5" y="995.3" width="616.1" height="388.5" fill="none" stroke="#000" stroke-width="3.6"/>
<rect x="283.7" y="990.8" width="3.6" height="9.0"/>
<rect x="283.7" y="1379.3" width="3.6" height="9.0"/>
<rect x="386.4" y="990.8" width="3.6" height="9.0"/>
<rect x="386.4" y="1379.3" width="3.6" height="9.0"/>
<rect x="489.1" y="990.8" width="3.6" height="9.0"/>
<rect x="489.1" y="1379.3" width="3.6" height="9.0"/>
<rect x="591.8" y="990.8" width="3.6" height="9.0"/>
<rect x="591.8" y="1379.3" width="3.6" height="9.0"/>
<rect x="694.4" y="990.8" width="3.6" height="9.0"/>
<rect x="694.4" y="1379.3" width="3.6" height="9.0"/>
<rect x="797.1" y="990.8" width="3.6" height="9.0"/>
<rect x="797.1" y="1379.3" width="3.6" height="9.0"/>
<rect x="899.8" y="990.8" width="3.6" height="9.0"/>
<rect x="899.8" y="1379.3" width="3.6" height="9.0"/>
<rect x="281.0" y="993.5" width="9.0" height="3.6"/>
<rect x="897.1" y="993.5" width="9.0" height="3.6"/>
<rect x="281.0" y="1042.1" width="9.0" height="3.6"/>
<rect x="897.1" y="1042.1" width="9.0" height="3.6"/>
<rect x="281.0" y="1090.6" width="9.0" height="3.6"/>
<rect x="897.1" y="1090.6" width="9.0" height="3.6"/>
<rect x="281.0" y="1139.2" width="9.0" height="3.6"/>
<rect x="897.1" y="1139.2" width="9.0" height="3.6"/>
<rect x="281.0" y="1187.8" width="9.0" height="3.6"/>
<rect x="897.1" y="1187.8" width="9.0" height="3.6"/>
<rect x="281.0" y="1236.3" width="9.0" height="3.6"/>
<rect x="897.1" y="1236.3" width="9.0" height="3.6"/>
<rect x="281.0" y="1284.9" width="9.0" height="3.6"/>
<rect x="897.1" y="1284.9" width="9.0" height="3.6"/>
<rect x="281.0" y="1333.4" width="9.0" height="3.6"/>
<rect x="897.1" y="1333.4" width="9.0" height="3.6"/>
<rect x="281.0" y="1382.0" width="9.0" height="3.6"/>
<rect x="897.1" y="1382.0" width="9.0" height="3.6"/>
<path d="M286.2 1262.0L286.2 1170.0L286.5 1211.9L287.1 1260.1L287.7 1194.2L288.3 1226.8L288.9 1236.6L289.5 1238.6L290.1 1232.2L290.7 1186.8L291.3 1237.9L291.9 1193.6L292.5 1167.3L293.1 1146.5L293.7 1152.0L294.3 1180.3L294.9 1161.3L295.5 1237.4L296.1 1186.3L296.7 1235.3L297.3 1229.5L297.9 1216.4L298.5 1225.2L299.1 1238.6L299.7 1194.3L300.3 1178.4L300.9 1226.6L301.5 1238.6L302.1 1232.6L302.7 1238.6L303.3 1221.5L303.9 1171.6L304.5 1201.7L305.1 1199.0L305.7 1217.4L306.3 1221.0L306.9 1221.1L307.5 1234.6L308.1 1207.2L308.7 1243.3L309.3 1190.9L309.9 1234.9L310.5 1209.1L311.1 1210.9L311.7 1261.4L312.3 1225.9L312.9 1241.7L313.5 1278.1L314.1 1224.3L314.7 1282.0L315.3 1232.9L315.9 1253.1L316.5 1286.6L317.1 1258.5L317.7 1239.5L318.3 1224.1L318.9 1235.8L319.5 1260.1L320.1 1258.0L320.7 1213.0L321.3 1248.4L321.9 1208.1L322.5 1234.5L323.1 1216.5L323.7 1228.6L324.3 1230.8L324.9 1222.6L325.5 1205.4L326.1 1242.8L326.7 1243.4L327.3 1261.9L327.9 1263.3L328.5 1223.7L329.1 1227.1L329.7 1225.8L330.3 1251.9L330.9 1212.6L331.5 1242.3L332.1 1248.4L332.7 1215.2L333.0 1247.4L333.3 1242.7L333.6 1255.7L333.9 1263.8L334.2 1230.9L334.5 1257.2L334.8 1268.8L335.1 1279.1L335.4 1286.1L335.7 1282.5L336.0 1320.0L336.3 1237.4L336.6 1267.1L336.9 1251.6L337.2 1279.2L337.5 1262.6L337.8 1298.7L338.1 1311.7L338.4 1295.4L338.7 1293.3L339.0 1284.8L339.3 1262.8L339.6 1327.7L339.9 1258.5L340.2 1289.4L340.5 1279.5L340.8 1297.2L341.1 1234.3L341.4 1298.2L341.7 1254.1L342.0 1248.9L342.3 1264.0L342.6 1255.6L342.9 1277.4L343.2 1257.4L343.5 1242.4L343.8 1243.3L344.1 1297.9L344.4 1271.8L344.7 1232.8L345.0 1258.1L345.3 1224.4L345.6 1297.2L345.9 1219.2L346.2 1265.6L346.5 1273.9L346.8 1211.5L347.1 1294.0L347.4 1282.2L347.7 1263.5L348.0 1249.4L348.3 1265.4L348.6 1237.6L348.9 1234.7L349.2 1215.4L349.5 1231.7L349.8 1181.9L350.1 1222.4L350.4 1185.6L350.7 1159.3L351.0 1193.0L351.3 1223.6L351.6 1221.2L351.9 1175.2L352.2 1206.1L352.5 1173.1L352.8 1178.3L353.1 1186.0L353.4 1138.7L353.7 1182.9L354.0 1143.7L354.3 1149.0L354.6 1132.1L354.9 1132.2L355.2 1138.0L355.5 1208.9L355.8 1232.7L356.1 1191.2L356.4 1228.8L356.7 1182.9L357.0 1139.6L357.3 1186.8L357.6 1205.7L357.9 1176.3L358.2 1200.0L358.5 1214.4L358.8 1162.8L359.1 1144.6L359.4 1177.4L359.7 1183.1L360.0 1178.8L360.3 1232.5L360.6 1243.0L360.9 1179.8L361.2 1213.8L361.5 1226.8L361.8 1217.0L362.1 1227.4L362.4 1165.6L362.7 1202.2L363.0 1114.7L363.3 1212.0L363.6 1151.6L363.9 1194.1L364.2 1223.0L364.5 1196.2L364.8 1157.6L365.1 1223.0L365.4 1139.9L365.7 1191.3L366.0 1180.2L366.3 1133.9L366.6 1209.9L366.9 1187.8L367.2 1125.6L367.5 1179.6L367.8 1145.7L368.1 1107.8L368.4 1118.6L368.7 1155.6L369.0 1175.3L369.3 1157.7L369.6 1148.6L369.9 1163.7L370.2 1135.8L370.5 1189.5L370.8 1152.2L371.1 1151.5L371.4 1079.0L371.7 1092.1L372.0 1098.3L372.3 1196.7L372.6 1165.3L372.9 1132.6L373.2 1159.3L373.5 1124.4L373.8 1158.3L374.1 1117.1L374.4 1160.5L374.7 1087.3L375.0 1215.5L375.3 1136.8L375.6 1086.8L375.9 1129.6L376.2 1126.7L376.5 1151.7L376.8 1087.5L377.1 1154.7L377.4 1203.6L377.7 1085.4L378.0 1145.8L378.3 1121.5L378.6 1140.5L378.9 1071.8L379.2 1071.0L379.5 1139.2L379.8 1124.5L380.1 1177.0L380.4 1097.5L380.7 1064.3L381.0 1168.6L381.3 1108.6L381.6 1107.3L381.9 1136.4L382.2 1145.6L382.5 1161.3L382.7 1159.6L385.8 1157.1L388.6 1154.4L391.0 1151.4L393.1 1148.2L394.8 1144.9L396.1 1141.3L397.0 1137.4L397.6 1133.4L399.5 1100.0L399.5 1110.4L399.9 1095.6L400.4 1109.2L400.8 1133.1L401.3 1133.6L401.7 1084.8L402.2 1100.8L402.6 1091.2L403.1 1117.4L403.5 1109.0L404.0 1136.8L404.4 1135.9L404.9 1135.3L405.3 1121.4L405.8 1113.5L406.2 1119.5L406.7 1139.9L407.1 1130.7L407.6 1110.1L408.0 1139.5L408.5 1124.2L408.9 1114.7L409.4 1096.9L409.8 1097.4L410.3 1096.1L410.7 1084.8L411.2 1128.9L411.6 1129.1L412.1 1111.6L412.5 1133.6L413.0 1125.3L413.4 1121.2L413.9 1081.6L414.3 1096.7L414.8 1115.2L415.2 1132.9L415.7 1131.8L416.1 1130.6L416.6 1088.5L417.0 1078.5L417.5 1107.0L417.9 1103.4L418.4 1118.6L418.8 1102.3L419.3 1103.7L419.7 1075.8L420.2 1099.7L420.6 1090.1L421.1 1100.2L421.5 1103.8L422.0 1094.8L422.4 1098.8L422.9 1094.0L423.3 1103.8L423.8 1101.6L424.2 1085.5L424.7 1080.8L425.1 1108.7L425.6 1092.8L426.0 1103.4L426.5 1097.4L426.9 1083.0L427.4 1076.8L427.8 1086.1L428.3 1089.8L428.7 1094.6L429.2 1072.8L429.6 1075.7L430.1 1083.0L430.5 1103.9L431.0 1071.6L431.4 1090.2L431.9 1083.0L432.3 1094.2L432.8 1085.5L433.2 1095.1L433.7 1110.1L434.1 1102.3L434.6 1102.0L435.0 1101.6L435.5 1086.5L435.9 1101.3L436.4 1094.9L436.8 1085.1L437.3 1094.2L437.7 1094.3L438.2 1109.3L438.6 1101.8L439.1 1092.5L439.5 1120.4L440.0 1120.5L440.4 1120.9L440.9 1079.0L441.3 1102.3L441.8 1094.2L442.2 1094.4L442.7 1115.0L443.1 1107.6L443.6 1080.1L444.0 1097.7L444.5 1081.1L444.9 1103.5L445.4 1083.7L445.8 1082.4L446.3 1105.7L446.7 1108.4L447.2 1083.8L447.6 1122.5L448.1 1144.4L448.5 1089.4L449.0 1148.0L449.4 1109.5L449.9 1104.9L450.3 1111.4L450.8 1086.7L451.2 1143.0L451.7 1137.3L452.1 1105.4L452.6 1109.1L453.0 1086.7L453.5 1102.7L453.9 1137.6L454.4 1090.2L454.8 1104.1L455.3 1119.3L455.7 1138.6L456.2 1142.0L456.6 1119.0L457.1 1111.0L457.5 1124.3L458.0 1118.5L458.4 1118.5L458.9 1128.9L459.3 1130.1L459.8 1128.4L460.2 1125.1L460.7 1133.0L461.1 1112.2L461.6 1125.2L462.0 1113.8L462.5 1156.2L462.9 1154.6L463.4 1144.6L463.8 1135.8L464.3 1107.8L464.7 1150.6L465.2 1176.0L465.6 1131.3L466.1 1156.6L466.5 1164.0L467.0 1107.1L467.4 1157.1L467.9 1176.0L468.3 1156.0L468.8 1143.5L469.2 1162.4L469.7 1107.0L470.1 1135.3L470.6 1167.2L471.0 1115.8L471.5 1160.8L471.9 1135.5L472.4 1107.2L472.8 1131.3L473.3 1115.6L473.7 1145.8L474.2 1115.5L474.6 1166.2L475.1 1133.2L475.5 1154.1L476.0 1135.3L476.4 1137.5L476.9 1177.3L477.3 1161.9L477.8 1142.2L478.2 1115.0L478.7 1170.9L479.1 1173.8L479.6 1147.0L480.0 1155.1L480.5 1124.0L480.9 1116.6L481.4 1119.7L481.8 1151.1L482.3 1157.5L482.7 1132.0L483.2 1164.2L483.6 1173.5L484.1 1159.9L484.5 1179.0L485.0 1149.3L485.4 1146.4L485.9 1160.9L486.3 1151.4L486.8 1170.5L487.2 1122.1L487.7 1181.3L488.1 1141.2L488.6 1148.7L489.0 1125.2L489.5 1166.9L489.9 1194.7L490.4 1196.6L490.8 1194.5L491.3 1139.4L491.7 1144.7L492.2 1154.9L492.6 1146.8L493.1 1198.3L493.5 1188.9L494.0 1182.4L494.4 1196.0L494.9 1161.5L495.3 1154.8L495.8 1154.8L496.2 1195.8L496.7 1202.7L497.1 1209.9L497.6 1224.2L498.0 1163.8L498.5 1170.3L498.9 1188.8L499.4 1160.5L499.8 1171.6L500.3 1205.1L500.7 1213.2L501.2 1212.0L501.6 1194.8L502.1 1186.8L502.5 1202.8L503.0 1183.7L503.4 1188.5L503.9 1203.2L504.3 1179.6L504.8 1168.1L505.2 1173.9L505.7 1184.6L506.1 1184.2L506.6 1177.0L507.0 1181.3L507.5 1142.9L507.9 1143.4L508.4 1161.8L508.8 1145.6L509.3 1141.8L509.7 1145.5L510.2 1150.9L510.6 1171.7L511.1 1160.7L511.5 1189.7L512.0 1217.2L512.4 1187.3L512.9 1206.6L513.3 1187.8L513.8 1154.4L514.2 1159.7L514.7 1152.2L515.1 1183.8L515.6 1164.9L516.0 1202.8L516.5 1204.3L516.9 1177.5L517.4 1208.6L517.8 1225.9L518.3 1206.7L518.7 1229.4L519.2 1202.8L519.6 1218.9L520.1 1197.4L520.5 1221.5L521.0 1192.1L521.4 1189.4L521.9 1218.4L522.3 1248.7L522.8 1209.0L523.2 1236.0L523.7 1223.2L524.1 1209.1L524.6 1232.4L525.0 1253.5L525.5 1198.2L525.9 1230.2L526.4 1233.4L526.8 1196.5L527.3 1253.4L527.7 1254.6L528.2 1218.1L528.6 1253.3L529.1 1234.0L529.5 1223.9L530.0 1245.1L530.4 1229.9L530.9 1226.0L531.3 1236.8L531.8 1234.1L532.2 1229.8L532.7 1195.3L533.1 1190.3L533.6 1218.0L534.0 1194.8L534.5 1203.4L534.9 1185.7L535.4 1193.7L535.8 1177.7L536.3 1219.7L536.7 1184.4L537.2 1189.7L537.6 1188.7L538.1 1217.8L538.5 1178.1L539.0 1197.3L539.4 1201.3L539.9 1220.4L540.3 1227.0L540.8 1210.9L541.2 1225.1L541.7 1217.3L542.1 1237.8L542.6 1232.1L543.0 1219.4L543.5 1271.6L543.9 1237.5L544.4 1258.3L544.8 1213.3L545.3 1218.8L545.7 1241.9L546.2 1163.2L546.6 1156.9L547.1 1152.4L547.5 1178.8L548.0 1228.8L548.4 1213.4L548.9 1230.6L549.3 1199.7L549.8 1164.0L550.2 1165.9L550.7 1218.1L551.1 1211.2L551.6 1174.7L552.0 1224.6L552.5 1175.6L552.9 1222.4L553.4 1230.5L553.8 1186.4L554.3 1165.1L554.7 1200.4L555.2 1163.5L555.6 1194.1L556.1 1154.5L556.5 1184.5L557.0 1173.8L557.4 1157.3L557.9 1140.9L558.3 1158.9L558.8 1133.9L559.2 1150.1L559.7 1152.9L560.1 1175.6L560.6 1145.3L561.0 1193.3L561.5 1170.1L561.9 1150.3L562.4 1192.8L562.8 1198.2L563.3 1178.3L563.7 1162.2L564.2 1174.0L564.6 1164.5L565.1 1168.9L565.5 1201.9L566.0 1191.2L566.4 1184.2L566.9 1186.2L567.3 1179.4L567.8 1194.5L568.2 1199.2L568.7 1177.2L569.1 1180.6L569.6 1204.8L570.0 1195.2L570.5 1183.3L570.9 1207.5L571.4 1192.1L571.8 1172.1L572.3 1196.3L572.7 1179.8L573.2 1183.3L573.6 1196.8L574.1 1195.2L574.5 1188.2L575.0 1190.8L575.4 1185.7L575.9 1203.5L576.3 1180.3L576.8 1172.8L577.2 1196.9L577.7 1170.3L578.1 1189.4L578.6 1185.6L579.0 1163.4L579.5 1134.1L579.9 1153.8L580.4 1159.7L580.8 1165.2L581.3 1150.1L581.7 1166.5L582.2 1166.6L582.6 1125.9L583.1 1163.6L583.5 1147.4L584.0 1127.0L584.4 1126.2L584.9 1166.1L585.3 1168.2L585.8 1109.9L586.2 1136.3L586.7 1139.0L587.1 1140.0L587.6 1133.0L588.0 1114.6L588.5 1161.5L588.9 1126.1L589.4 1130.8L589.8 1125.2L590.3 1119.8L590.7 1153.3L591.2 1151.7L591.6 1125.1L592.1 1111.2L592.5 1118.0L593.0 1151.6L593.4 1139.6L593.9 1136.6L594.3 1121.6L594.8 1117.5L595.2 1121.3L595.7 1099.6L596.1 1131.0L596.6 1183.8L597.0 1105.2L597.5 1125.6L597.9 1116.9L598.4 1112.0L598.8 1103.2L599.3 1094.0L599.7 1104.7L600.2 1116.0L600.6 1096.7L601.1 1112.3L601.5 1091.5L602.0 1088.9L602.4 1097.9L602.9 1094.3L603.3 1097.8L603.8 1079.0L604.2 1081.5L604.7 1082.4L605.1 1084.5L605.6 1086.7L606.0 1088.9L606.5 1107.0L606.9 1101.8L607.4 1095.3L607.8 1136.5L608.3 1112.5L608.7 1101.4L609.2 1137.4L609.6 1144.6L610.1 1105.4L610.5 1094.2L611.0 1092.3L611.4 1133.7L611.9 1114.3L612.3 1097.6L612.8 1110.5L613.2 1140.5L613.7 1091.7L614.1 1101.3L614.6 1086.7L615.0 1144.6L615.5 1144.6L615.9 1143.5L616.4 1120.8L616.8 1132.4L617.3 1093.9L617.7 1119.9L618.2 1099.0L618.6 1101.5L619.1 1108.6L619.5 1117.3L620.0 1133.7L620.4 1139.1L620.9 1134.3L621.3 1116.1L621.8 1134.3L622.2 1127.7L622.7 1144.3L623.1 1119.0L623.6 1109.0L624.0 1116.2L624.5 1144.7L624.9 1136.8L625.4 1126.0L625.8 1136.4L626.3 1133.7L626.7 1132.1L627.2 1120.1L627.6 1123.9L628.1 1126.2L628.5 1117.3L629.0 1109.7L629.4 1122.0L629.9 1134.4L630.3 1133.9L630.8 1132.0L631.2 1131.7L631.7 1139.0L632.1 1130.7L632.6 1137.4L633.0 1138.7L633.5 1125.5L633.9 1122.7L634.4 1127.8L634.8 1126.9L635.3 1117.7L635.7 1113.9L636.2 1108.8L636.6 1095.6L637.1 1111.4L637.5 1105.9L638.0 1097.9L638.4 1105.0L638.9 1100.7L639.3 1102.0L639.8 1109.3L640.2 1106.6L640.7 1117.3L641.1 1107.9L641.6 1114.8L642.0 1118.3L642.5 1121.9L642.9 1121.3L643.4 1116.9L643.8 1114.0L644.3 1111.4L644.7 1119.2L645.2 1106.0L645.6 1112.0L646.1 1107.5L646.5 1110.9L647.0 1107.3L647.4 1125.1L647.9 1107.7L648.3 1114.6L648.8 1117.5L649.2 1123.4L649.7 1123.9L650.1 1124.6L650.6 1133.6L651.0 1100.9L651.5 1115.3L651.9 1100.7L652.4 1120.3L652.8 1103.3L653.3 1102.9L653.7 1118.2L654.2 1146.0L654.6 1139.5L655.1 1133.6L655.5 1145.8L656.0 1116.8L656.4 1106.6L656.9 1115.8L657.3 1120.4L657.8 1142.3L658.2 1144.9L658.7 1115.0L659.1 1144.7L659.6 1144.9L660.0 1142.8L660.5 1134.5L660.9 1145.6L661.4 1128.6L661.8 1111.9L662.3 1119.1L662.7 1085.8L663.2 1119.5L663.6 1116.4L664.1 1120.7L664.5 1120.2L664.7 1118.5L666.7 1115.1L668.7 1112.2L670.6 1110.0L672.5 1108.3L674.3 1107.1L676.0 1106.6L677.7 1106.6L679.3 1107.1L680.9 1108.3L682.4 1110.0L682.4 1106.1L682.9 1129.6L683.3 1111.7L683.8 1140.7L684.2 1097.3L684.7 1124.6L685.1 1105.7L685.6 1120.3L686.0 1110.9L686.5 1099.3L686.9 1101.2L687.4 1124.3L687.8 1141.9L688.3 1107.3L688.7 1108.7L689.2 1114.3L689.6 1135.7L690.1 1191.0L690.5 1126.9L691.0 1163.4L691.4 1171.1L691.9 1164.3L692.3 1124.5L692.8 1133.9L693.2 1133.1L693.7 1114.8L694.1 1148.7L694.6 1144.6L695.0 1136.3L695.5 1161.4L695.9 1158.7L696.4 1159.3L696.8 1161.8L697.3 1159.0L697.7 1133.7L698.2 1137.8L698.6 1157.3L699.1 1138.1L699.5 1144.2L700.0 1151.0L700.4 1165.4L700.9 1165.9L701.3 1164.9L701.8 1146.9L702.2 1164.6L702.7 1169.6L703.1 1162.0L703.6 1198.8L704.0 1206.0L704.5 1160.3L704.9 1198.8L705.4 1173.6L705.8 1185.5L706.3 1145.9L706.7 1165.9L707.2 1153.8L707.6 1151.3L708.1 1150.4L708.5 1192.4L709.0 1174.7L709.4 1175.8L709.9 1190.6L710.3 1180.9L710.8 1189.9L711.2 1169.4L711.7 1188.3L712.1 1187.4L712.6 1202.7L713.0 1204.9L713.5 1185.5L713.9 1187.5L714.4 1189.9L714.8 1215.8L715.3 1219.5L715.7 1221.7L716.2 1199.6L716.6 1202.0L717.1 1209.2L717.5 1216.3L718.0 1216.5L718.4 1229.8L718.9 1245.5L719.3 1209.9L719.8 1205.7L720.2 1215.4L720.7 1214.1L721.1 1208.7L721.6 1227.1L722.0 1203.1L722.5 1200.4L722.9 1176.8L723.4 1179.0L723.8 1193.5L724.3 1195.6L724.7 1182.2L725.2 1191.2L725.6 1188.0L726.1 1162.9L726.5 1165.3L727.0 1211.8L727.4 1209.8L727.9 1196.5L728.3 1175.4L728.8 1179.5L729.2 1217.8L729.7 1187.6L730.1 1201.4L730.6 1224.9L731.0 1223.3L731.5 1234.6L731.9 1245.5L732.4 1244.6L732.8 1216.5L733.3 1208.0L733.7 1224.2L734.2 1240.9L734.6 1227.3L735.1 1236.6L735.5 1220.3L736.0 1206.7L736.4 1228.3L736.9 1226.9L737.3 1223.0L737.8 1205.7L738.2 1192.8L738.7 1188.6L739.1 1191.9L739.6 1198.5L740.0 1202.8L740.5 1189.2L740.9 1201.9L741.4 1205.6L741.8 1209.3L742.3 1211.1L742.7 1211.6L743.2 1222.6L743.6 1222.2L744.1 1225.4L744.5 1216.7L745.0 1230.4L745.4 1245.0L745.9 1209.5L746.3 1228.2L746.8 1223.0L747.2 1236.3L747.7 1225.7L748.1 1223.6L748.6 1226.4L749.0 1222.5L749.5 1212.7L749.9 1194.7L750.4 1236.4L750.8 1186.5L751.3 1193.7L751.7 1214.9L752.2 1212.9L752.6 1215.2L753.1 1218.9L753.5 1227.1L754.0 1204.9L754.4 1223.0L754.9 1158.1L755.3 1177.4L755.8 1160.1L756.2 1121.4L756.7 1174.9L757.1 1215.3L757.6 1164.1L758.0 1155.0L758.5 1194.3L758.9 1199.6L759.4 1216.4L759.8 1216.6L760.3 1201.0L760.7 1185.0L761.2 1193.5L761.6 1186.6L762.1 1156.4L762.5 1182.0L763.0 1183.9L763.4 1182.8L763.9 1177.6L764.3 1230.8L764.8 1223.3L765.2 1228.6L765.7 1191.0L766.1 1173.3L766.6 1188.9L767.0 1206.5L767.5 1198.6L767.9 1201.7L768.4 1228.2L768.8 1221.6L769.3 1195.9L769.7 1196.1L770.2 1187.5L770.6 1201.3L771.1 1168.6L771.5 1181.7L772.0 1206.4L772.4 1191.6L772.9 1156.0L773.3 1152.1L773.8 1172.3L774.2 1187.4L774.7 1202.0L775.1 1168.5L775.6 1119.8L776.0 1200.5L776.5 1181.7L776.9 1179.5L777.4 1175.2L777.8 1138.2L778.3 1148.5L778.7 1164.9L779.2 1187.9L779.6 1173.9L780.1 1142.9L780.5 1161.1L781.0 1178.3L781.4 1199.9L781.9 1196.4L782.3 1202.3L782.8 1203.5L783.2 1204.7L783.7 1205.2L784.1 1179.7L784.6 1190.2L785.0 1181.4L785.5 1150.4L785.9 1154.5L786.4 1149.8L786.8 1127.9L787.3 1129.2L787.7 1124.6L788.2 1135.6L788.6 1118.9L789.1 1141.8L789.5 1086.0L790.0 1084.0L790.4 1085.8L790.9 1102.8L791.3 1137.6L791.8 1131.9L792.2 1127.2L792.7 1131.6L793.1 1168.0L793.6 1110.6L794.0 1150.9L794.5 1098.0L794.9 1113.1L795.4 1133.5L795.8 1115.1L796.3 1138.4L796.7 1158.2L797.2 1119.5L797.6 1137.9L798.1 1137.4L798.5 1120.6L799.0 1141.0L799.4 1134.9L799.9 1179.4L800.3 1143.3L800.8 1174.2L801.2 1139.6L801.7 1159.2L802.1 1144.6L802.6 1134.7L803.0 1131.9L803.5 1126.9L803.9 1124.1L804.4 1127.7L804.8 1106.1L805.3 1077.6L805.7 1070.4L806.2 1082.7L806.6 1121.4L807.1 1120.4L807.5 1048.6L808.0 1091.1L808.4 1077.8L808.9 1088.5L809.3 1113.7L809.8 1066.6L810.2 1118.1L810.7 1069.6L811.1 1089.6L811.6 1080.5L812.0 1083.0L812.5 1065.9L812.9 1060.7L813.4 1075.6L813.8 1059.3L814.3 1111.0L814.7 1082.9L815.2 1070.6L815.6 1070.2L816.1 1057.8L816.5 1056.0L817.0 1075.4L817.4 1096.5L817.9 1055.5L818.3 1079.9L818.8 1047.6L819.2 1071.5L819.7 1087.2L820.1 1092.9L820.6 1090.5L821.0 1049.8L821.5 1019.6L821.9 1056.4L822.4 1072.6L822.8 1084.0L823.3 1062.5L823.7 1040.9L824.2 1069.4L824.6 1052.6L825.1 1055.1L825.5 1057.0L826.0 1074.4L826.4 1073.3L826.9 1063.8L827.3 1084.8L827.8 1099.5L828.2 1104.0L828.7 1087.5L829.1 1093.3L829.6 1101.0L830.0 1112.0L830.5 1096.4L830.9 1060.6L831.4 1102.2L831.8 1042.0L832.3 1047.8L832.7 1064.2L833.2 1089.4L833.6 1086.7L834.1 1103.6L834.5 1116.8L835.0 1111.7L835.4 1042.0L835.9 1047.2L836.3 1101.2L836.8 1130.8L837.2 1130.8L837.7 1112.6L838.1 1112.6L838.6 1130.3L839.0 1128.8L839.5 1119.2L839.9 1120.1L840.4 1100.6L840.8 1111.4L841.3 1094.5L841.7 1097.8L842.2 1097.5L842.6 1091.3L843.1 1078.3L843.5 1079.2L844.0 1096.0L844.4 1093.8L844.9 1087.3L845.3 1098.6L845.8 1105.7L846.2 1110.2L846.7 1080.9L847.1 1088.0L847.6 1082.4L848.0 1070.5L848.5 1064.5L848.9 1080.9L849.4 1071.4L849.8 1110.2L850.3 1091.4L850.7 1084.8L851.2 1080.7L851.6 1105.4L852.1 1078.6L852.5 1082.3L853.0 1076.0L853.4 1082.1L853.9 1085.0L854.3 1097.9L854.8 1075.6L855.2 1084.6L855.7 1100.9L856.1 1087.0L856.6 1087.1L857.0 1081.6L857.5 1078.5L857.9 1085.9L858.4 1098.5L858.8 1087.8L859.3 1078.5L859.7 1089.0L860.2 1090.0L860.6 1098.0L861.1 1099.3L861.5 1089.2L862.0 1092.4L862.4 1076.4L862.9 1095.5L863.3 1091.5L863.8 1099.2L864.2 1100.9L864.7 1087.4L865.1 1085.1L865.6 1076.5L866.0 1071.5L866.5 1080.9L866.9 1090.2L867.4 1081.3L867.8 1102.0L868.3 1103.0L868.7 1110.0L869.2 1100.7L869.6 1096.9L870.1 1130.8" fill="none" stroke="#000" stroke-width="1.80" stroke-linejoin="round" stroke-linecap="butt"/>
<text x="288.50" y="984.30" font-size="17.10" letter-spacing="0.20" transform="rotate(-45 288.50 984.30)">11/17/2014</text>
<text x="391.18" y="984.30" font-size="17.10" letter-spacing="0.20" transform="rotate(-45 391.18 984.30)">5/16/2014</text>
<text x="493.87" y="984.30" font-size="17.10" letter-spacing="0.20" transform="rotate(-45 493.87 984.30)">11/12/2015</text>
<text x="596.55" y="984.30" font-size="17.10" letter-spacing="0.20" transform="rotate(-45 596.55 984.30)">5/10/2015</text>
<text x="699.23" y="984.30" font-size="17.10" letter-spacing="0.20" transform="rotate(-45 699.23 984.30)">11/6/2016</text>
<text x="801.92" y="984.30" font-size="17.10" letter-spacing="0.20" transform="rotate(-45 801.92 984.30)">5/5/2016</text>
<text x="904.60" y="984.30" font-size="17.10" letter-spacing="0.20" transform="rotate(-45 904.60 984.30)">11/1/2017</text>
<text x="278.4" y="1000.6" font-size="17.0" text-anchor="end">122</text>
<text x="278.4" y="1049.2" font-size="17.0" text-anchor="end">104</text>
<text x="278.4" y="1097.7" font-size="17.0" text-anchor="end">86</text>
<text x="278.4" y="1146.3" font-size="17.0" text-anchor="end">68</text>
<text x="278.4" y="1194.8" font-size="17.0" text-anchor="end">50</text>
<text x="278.4" y="1243.4" font-size="17.0" text-anchor="end">32</text>
<text x="278.4" y="1292.0" font-size="17.0" text-anchor="end">14</text>
<text x="278.4" y="1340.5" font-size="17.0" text-anchor="end">-4</text>
<text x="278.4" y="1389.1" font-size="17.0" text-anchor="end">-22</text>
<text x="913.6" y="1000.6" font-size="17.0">50</text>
<text x="913.6" y="1049.2" font-size="17.0">40</text>
<text x="913.6" y="1097.7" font-size="17.0">30</text>
<text x="913.6" y="1146.3" font-size="17.0">20</text>
<text x="913.6" y="1194.8" font-size="17.0">10</text>
<text x="913.6" y="1243.4" font-size="17.0">0</text>
<text x="913.6" y="1292.0" font-size="17.0">-10</text>
<text x="913.6" y="1340.5" font-size="17.0">-20</text>
<text x="913.6" y="1389.1" font-size="17.0">-30</text>
<text x="285.5" y="1404.8" font-size="17.0" text-anchor="middle">0</text>
<text x="390.5" y="1404.8" font-size="17.0" text-anchor="middle">180</text>
<text x="493.2" y="1404.8" font-size="17.0" text-anchor="middle">360</text>
<text x="595.8" y="1404.8" font-size="17.0" text-anchor="middle">540</text>
<text x="698.5" y="1404.8" font-size="17.0" text-anchor="middle">720</text>
<text x="787.9" y="1404.8" font-size="17.0">90</text>
<text x="905.1" y="1404.8" font-size="17.0" text-anchor="middle">1080</text>
<text x="587.1" y="909.0" font-size="16.40" text-anchor="middle">Date</text>
<text x="597.5" y="1426.2" font-size="15.50" text-anchor="middle">Time, day</text>
<text x="238.7" y="1165.0" font-size="16.60" text-anchor="middle" transform="rotate(-90 238.7 1165.0)">Temperature, °F</text>
<text x="959.8" y="1177.7" font-size="16.40" text-anchor="middle" transform="rotate(-90 959.8 1177.7)">Temperature, °C</text>
</g>
<g id="captions">
<text x="77.0" y="783.1" text-anchor="start" style="font-family:'Liberation Sans', Arial, sans-serif;font-size:17.30px;font-weight:700;fill:#fff">Figure 14.</text>
<text x="163.2" y="783.1" text-anchor="start" style="font-family:'DejaVu Sans', 'Liberation Sans', sans-serif;font-size:16.29px;font-weight:400;fill:#f2f2f2">Long-term monitoring of 0.6 in. (15 mm) diameter carbon-fiber-composite-cable specimens exposed to weather</text>
<text x="77.2" y="802.9" text-anchor="start" style="font-family:'DejaVu Sans', 'Liberation Sans', sans-serif;font-size:16.29px;font-weight:400;fill:#f2f2f2">conditions.</text>
<text x="77.0" y="1501.0" text-anchor="start" style="font-family:'Liberation Sans', Arial, sans-serif;font-size:16.20px;font-weight:700;fill:#fff">Figure 15.</text>
<text x="159.0" y="1501.0" text-anchor="start" style="font-family:'DejaVu Sans', 'Liberation Sans', sans-serif;font-size:15.53px;font-weight:400;fill:#f2f2f2">Temperature change in 0.6 in. (15 mm) diameter carbon-fiber-composite-cable specimens exposed to weather conditions.</text>
<text x="822.4" y="1575.5" text-anchor="start" style="font-family:'DejaVu Sans', 'Liberation Sans', sans-serif;font-size:17.50px;font-weight:400;fill:#231f20">PCI Journal</text>
<rect x="928.8" y="1562" width="1.5" height="15.5" fill="#231f20"/>
<text x="937.0" y="1575.5" text-anchor="start" style="font-family:'DejaVu Sans', 'Liberation Sans', sans-serif;font-size:16.85px;font-weight:400;fill:#8d8d8d">May–June 2023</text>
<text x="1144.5" y="1575.5" text-anchor="middle" style="font-family:'DejaVu Sans', 'Liberation Sans', sans-serif;font-size:15.80px;font-weight:700;fill:#fff">49</text>
</g>
</svg>
</body></html>
